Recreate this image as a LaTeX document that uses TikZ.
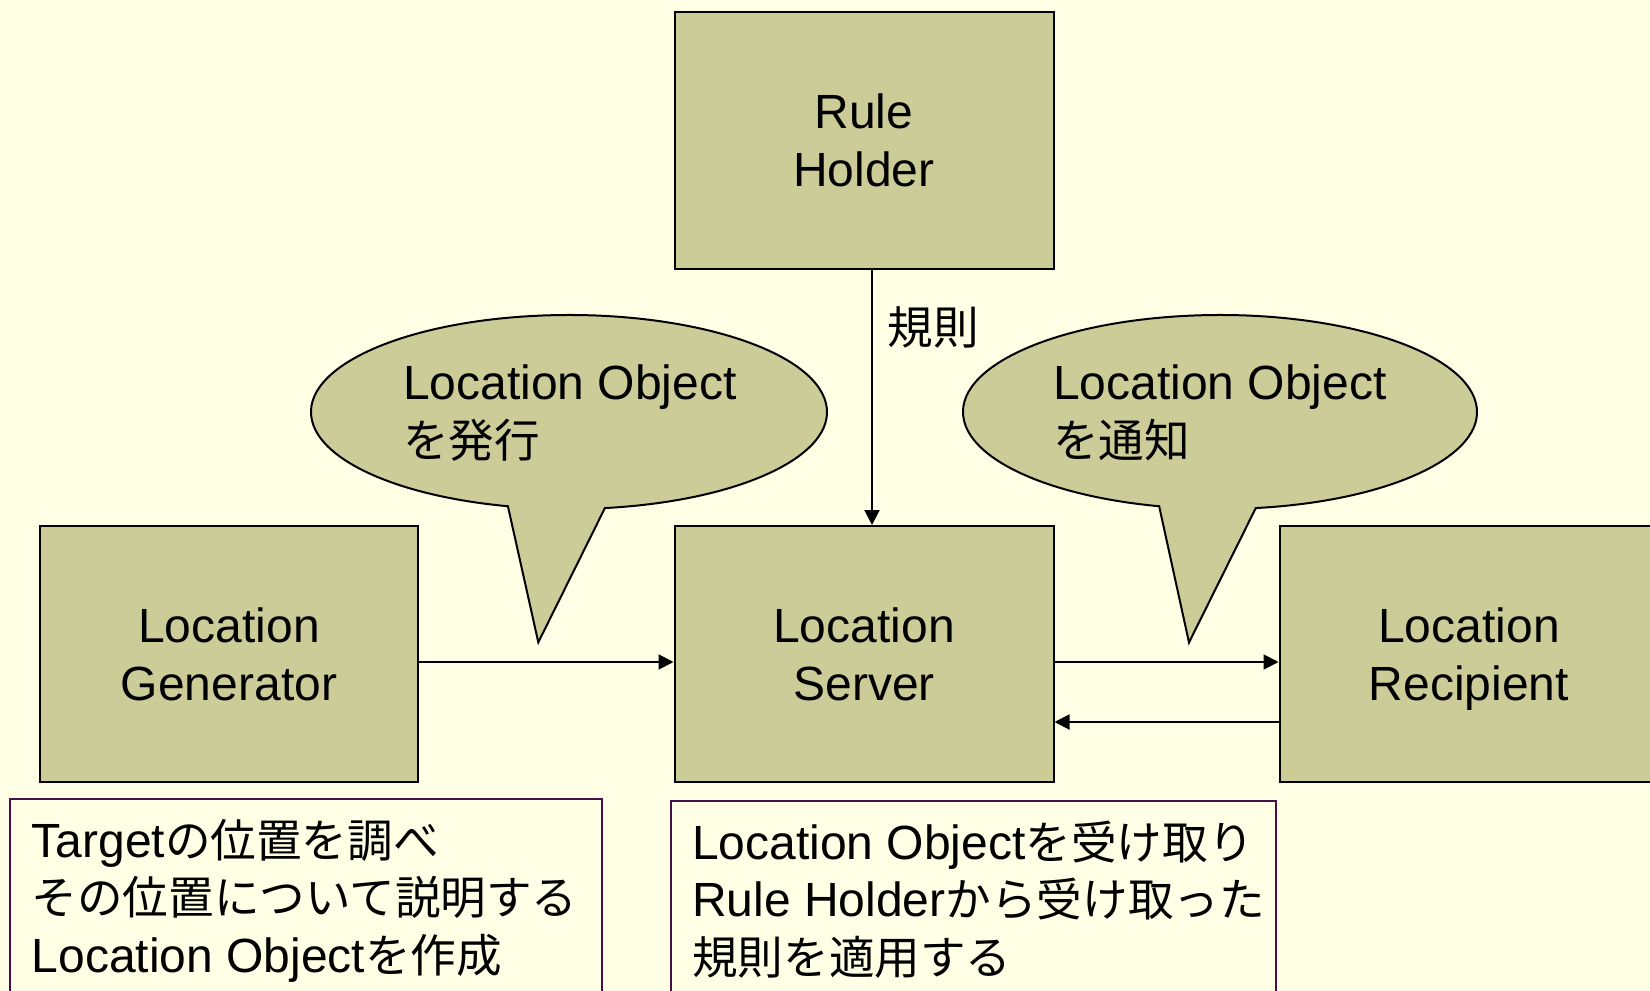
\documentclass[tikz,border=0pt]{standalone}
\usepackage{fontspec}
\setmainfont{Liberation Sans}
\newfontfamily\jp[Scale=0.95]{Noto Sans CJK JP}
\usetikzlibrary{arrows.meta}
\definecolor{bgc}{RGB}{255,255,229}
\definecolor{boxc}{RGB}{204,204,153}
\definecolor{tbc}{RGB}{72,16,72}
\tikzset{
  block/.style={draw=black, line width=2pt, fill=boxc, inner sep=0pt, align=center,
    text depth=0pt, font=\fontsize{48}{58}\selectfont},
  note/.style={draw=tbc, line width=2pt, fill=bgc, inner sep=0pt},
  notetext/.style={inner sep=0pt, align=left, anchor=base west, font=\fontsize{48}{57.5}\selectfont},
  bubble/.style={draw=black, line width=2pt, fill=boxc},
  btext/.style={inner sep=0pt, align=left, anchor=base west, font=\fontsize{48}{58}\selectfont},
  conn/.style={line width=2pt, -{Triangle[length=15pt,width=15pt]}},
}
\begin{document}
\begin{tikzpicture}[x=1pt,y=-1pt]
\clip (0,0) rectangle (1650,991);
\fill[bgc] (0,0) rectangle (1650,991);

% boxes
\node[block, minimum width=379pt, minimum height=257pt] (rule) at (864,140) {Rule\\Holder};
\node[block, minimum width=378pt, minimum height=256pt] (gen) at (229,654) {Location\\Generator};
\node[block, minimum width=379pt, minimum height=256pt] (srv) at (864,654) {Location\\Server};
\node[block, minimum width=379pt, minimum height=256pt] (rec) at (1469,654) {Location\\Recipient};

% connectors
\draw[conn] ([yshift=-8pt]gen.east) -- ([yshift=-8pt]srv.west);
\draw[conn] ([yshift=-8pt]srv.east) -- ([yshift=-8pt]rec.west);
\draw[conn] ([yshift=-68pt]rec.west) -- ([yshift=-68pt]srv.east);
\draw[conn] ([xshift=8pt]rule.south) -- ([xshift=8pt]srv.north);
\node[inner sep=0pt, font=\fontsize{48}{58}\jp] (kisoku) at (933,327) {規則};

% bubbles
\coordinate (b1c) at (569,412);
\draw[bubble] ([shift={(82:258 and 97)}]b1c) arc[start angle=82, end angle=-256.3, x radius=258, y radius=97] -- (538.3,642.3) -- cycle;
\node[btext] (b1t) at (403,457) {Location Object\\{\jp を発行}};

\coordinate (b2c) at (1220,412);
\draw[bubble] ([shift={(82:257 and 97)}]b2c) arc[start angle=82, end angle=-256.3, x radius=257, y radius=97] -- (1189,642.5) -- cycle;
\node[btext] (b2t) at (1053,457) {Location Object\\{\jp を通知}};

% notes
\draw[note] (9.5,798.5) rectangle (602,1010);
\node[notetext] (n1) at (31.5,972) {Target{\jp の位置を調べ}\\{\jp その位置について説明する}\\Location Object{\jp を作成}};
\draw[note] (671,801) rectangle (1276,1010);
\node[notetext] (n2) at (692,974) {Location Object{\jp を受け取り}\\Rule Holder{\jp から受け取った}\\{\jp 規則を適用する}};
\end{tikzpicture}
\end{document}
